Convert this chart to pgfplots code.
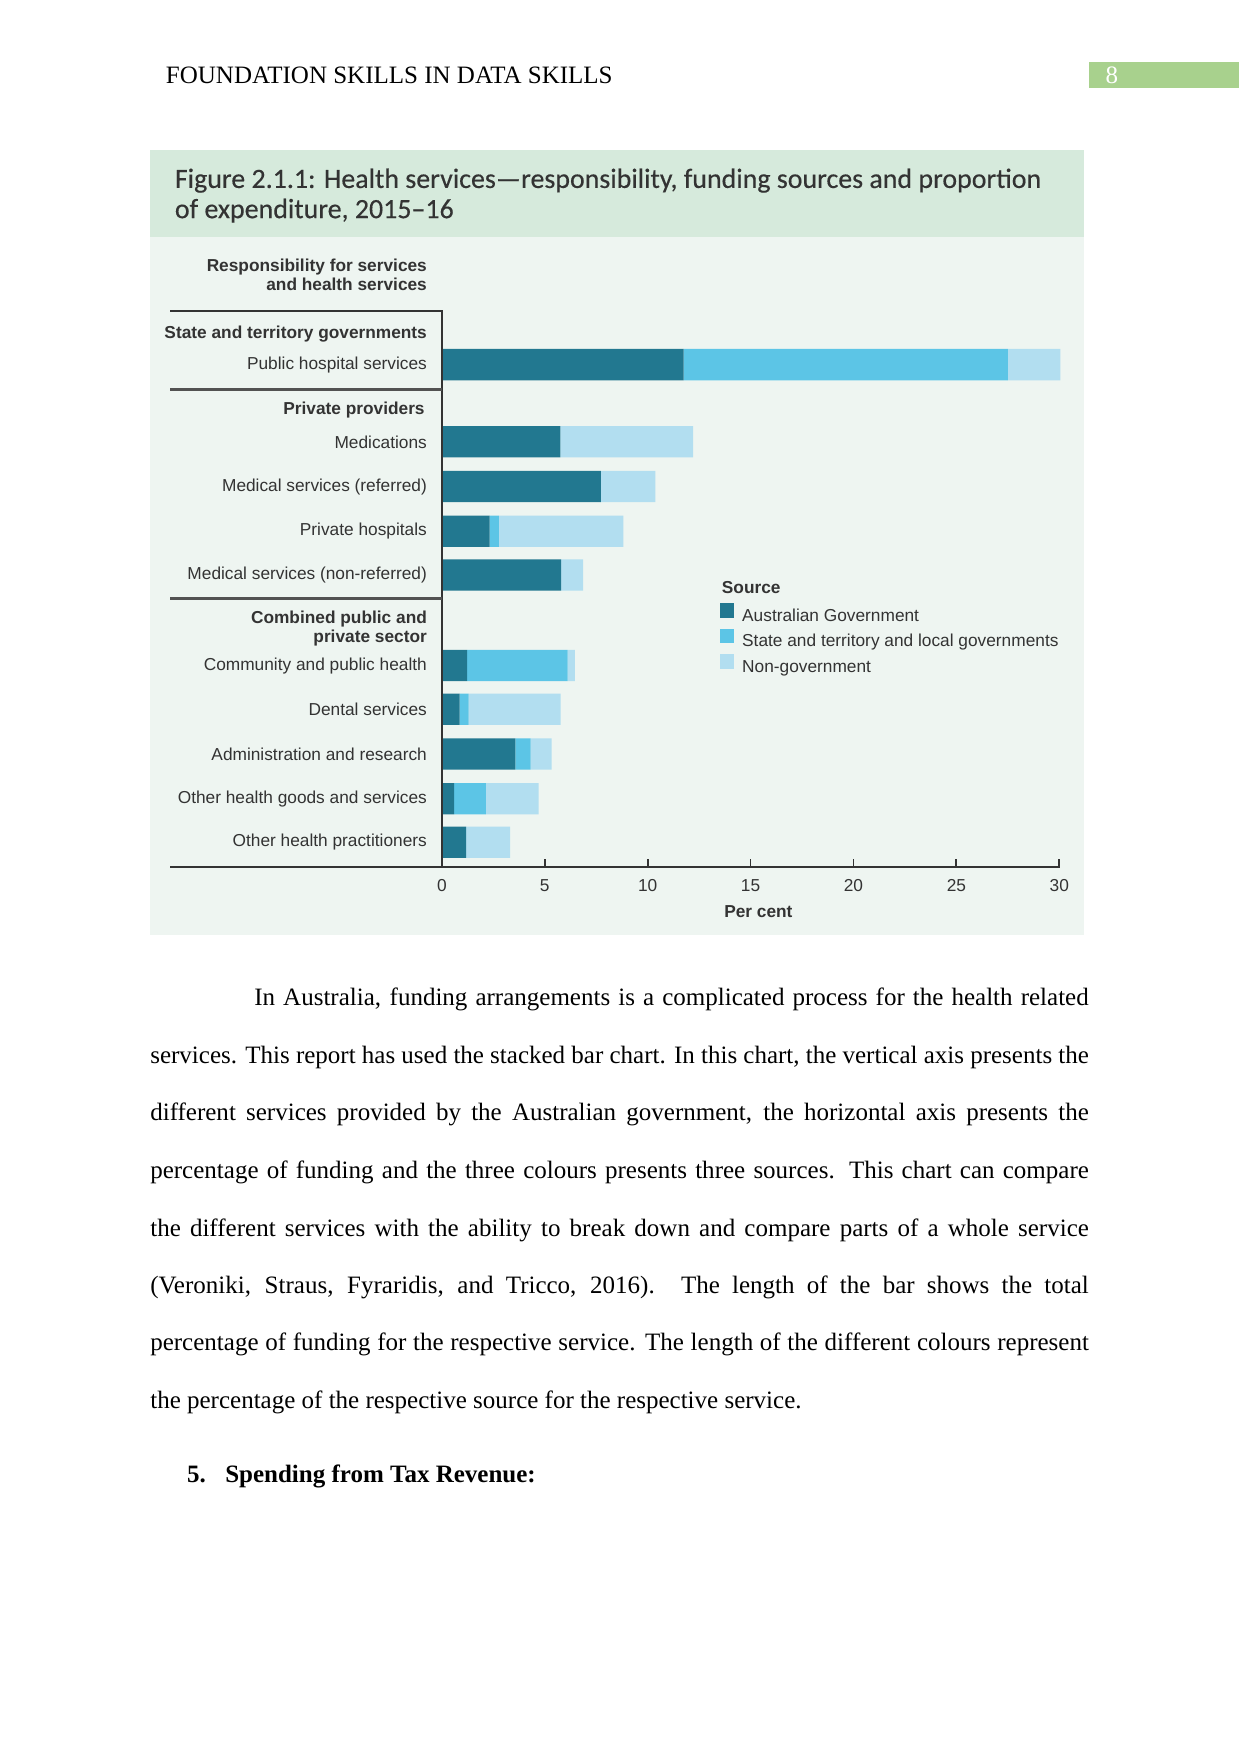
\documentclass[border=0pt]{standalone}
\usepackage{pgfplots}
\pgfplotsset{compat=1.18}
\usepackage{fontspec}
\setmainfont{Liberation Serif}
\newfontfamily\arial{Liberation Sans}
\newfontfamily\titlefont{Carlito}[FakeBold=0.35]
\definecolor{dark}{HTML}{227890}
\definecolor{mid}{HTML}{5CC5E6}
\definecolor{light}{HTML}{B2DEF0}
\definecolor{band}{HTML}{D6EADC}
\definecolor{panel}{HTML}{EEF5F1}
\definecolor{pgbox}{HTML}{A8D18D}
\definecolor{ink}{HTML}{333333}
\newcommand{\lbl}{\arial\fontsize{8.3}{10}\selectfont}
\newcommand{\body}{\fontsize{12}{14}\selectfont}
\begin{document}
\begin{tikzpicture}
\begin{scope}[x=0.53677pt,y=-0.53677pt]
\fill[white] (0,0) rectangle (1109,1568);
% running header
\node[anchor=base west,inner sep=0pt,font=\body] at (148,74.5) {FOUNDATION SKILLS IN DATA SKILLS};
\fill[pgbox] (974,55) rectangle (1108,79);
\node[anchor=base west,inner sep=0pt,text=white,font=\body] at (988,74.5) {8};
% chart panel
\fill[panel] (134,212) rectangle (969,836);
\fill[band] (134,134) rectangle (969,212);
\node[anchor=base west,inner sep=0pt,text=ink,font=\titlefont\fontsize{13.4}{15}\selectfont] at (156,168) {Figure 2.1.1: Health services—responsibility, funding sources and proportion};
\node[anchor=base west,inner sep=0pt,text=ink,font=\titlefont\fontsize{13.4}{15}\selectfont] at (156,195) {of expenditure, 2015–16};
% group headings
\node[anchor=base east,inner sep=0pt,text=ink,font=\lbl\bfseries] at (382,242.5) {Responsibility for services};
\node[anchor=base east,inner sep=0pt,text=ink,font=\lbl\bfseries] at (382,259.5) {and health services};
\node[anchor=base east,inner sep=0pt,text=ink,font=\lbl\bfseries] at (382,302.5) {State and territory governments};
\node[anchor=base east,inner sep=0pt,text=ink,font=\lbl\bfseries] at (380,370.5) {Private providers};
\node[anchor=base east,inner sep=0pt,text=ink,font=\lbl\bfseries] at (382,557.5) {Combined public and};
\node[anchor=base east,inner sep=0pt,text=ink,font=\lbl\bfseries] at (382,574.5) {private sector};
\node[anchor=base west,inner sep=0pt,text=ink,font=\lbl\bfseries] at (645,530.5) {Source};
\coordinate (SW) at (395,775);
% body text
\node[anchor=base west,inner sep=0pt,font=\body] at (227,899) {\makebox[400.4pt][s]{In Australia, funding arrangements is a complicated process for the health related}};
\node[anchor=base west,inner sep=0pt,font=\body] at (134,951) {\makebox[450.4pt][s]{services. This report has used the stacked bar chart. In this chart, the vertical axis presents the}};
\node[anchor=base west,inner sep=0pt,font=\body] at (134,1002) {\makebox[450.4pt][s]{different services provided by the Australian government, the horizontal axis presents the}};
\node[anchor=base west,inner sep=0pt,font=\body] at (134,1054) {\makebox[450.4pt][s]{percentage of funding and the three colours presents three sources. This chart can compare}};
\node[anchor=base west,inner sep=0pt,font=\body] at (134,1105) {\makebox[450.4pt][s]{the different services with the ability to break down and compare parts of a whole service}};
\node[anchor=base west,inner sep=0pt,font=\body] at (134,1156) {\makebox[450.4pt][s]{(Veroniki, Straus, Fyraridis, and Tricco, 2016). The length of the bar shows the total}};
\node[anchor=base west,inner sep=0pt,font=\body] at (134,1207) {\makebox[450.4pt][s]{percentage of funding for the respective service. The length of the different colours represent}};
\node[anchor=base west,inner sep=0pt,font=\body] at (134,1259) {the percentage of the respective source for the respective service.};
\node[anchor=base west,inner sep=0pt,font=\body\bfseries] at (167,1325) {5.};
\node[anchor=base west,inner sep=0pt,font=\body\bfseries] at (201,1325) {Spending from Tax Revenue:};
\end{scope}
\begin{axis}[
  at={(SW)}, anchor=south west,
  scale only axis, width=296.3pt, height=266.8pt,
  xbar stacked, bar width=28,
  xmin=0, xmax=30, ymin=278, ymax=775, y dir=reverse,
  axis line style={draw=none},
  xtick={0,5,10,15,20,25,30}, xtick pos=lower, tick align=inside,
  xtick style={draw=ink, line width=0.9pt}, major tick length=4pt,
  ytick={326,395,435,475,514,595,634,674,714,753},
  yticklabels={Public hospital services, Medications, Medical services (referred), Private hospitals, Medical services (non-referred), Community and public health, Dental services, Administration and research, Other health goods and services, Other health practitioners},
  ytick style={draw=none}, ytick pos=left,
  yticklabel style={font=\lbl, inner sep=0pt, xshift=-7pt, text=ink},
  xticklabel style={font=\lbl, text=ink, yshift=-2.5pt},
  /pgf/number format/assume math mode=true,
  xlabel={Per cent},
  xlabel style={font=\lbl\bfseries, text=ink, at={(axis description cs:0.5127,0)}, anchor=center, yshift=-21.5pt},
  legend style={at={(axis cs:13.48,539)}, anchor=north west, draw=none, fill=none, inner sep=0pt, font=\lbl, text=ink, row sep=1.65pt, nodes={inner sep=0pt, text height=6.2pt, text depth=1.8pt}, /tikz/every odd column/.append style={column sep=3.8pt}},
  legend cell align=left,
  legend image code/.code={\fill[#1] (0pt,-0.5pt) rectangle (7pt,6.5pt);},
  clip=false,
]
\addplot[fill=dark, draw=none] coordinates {(11.75,326) (5.76,395) (7.73,435) (2.32,475) (5.79,514) (1.23,595) (0.86,634) (3.57,674) (0.60,714) (1.18,753)};
\addplot[fill=mid, draw=none] coordinates {(15.75,326) (0,395) (0,435) (0.45,475) (0,514) (4.88,595) (0.44,634) (0.75,674) (1.54,714) (0,753)};
\addplot[fill=light, draw=none] coordinates {(2.55,326) (6.45,395) (2.64,435) (6.05,475) (1.07,514) (0.35,595) (4.47,634) (1.02,674) (2.56,714) (2.14,753)};
\legend{Australian Government, State and territory and local governments, Non-government}
\end{axis}
\begin{scope}[x=0.53677pt,y=-0.53677pt]
\draw[ink, line width=1pt] (152,278) -- (395,278) -- (395,775);
\draw[ink!85, line width=1.2pt] (152,348) -- (395,348);
\draw[ink!85, line width=1.2pt] (152,535) -- (395,535);
\draw[ink, line width=1pt] (152,775) -- (948,775);
\end{scope}
\useasboundingbox (0pt,0pt) rectangle (595.28pt,-841.7pt);
\end{tikzpicture}
\end{document}
